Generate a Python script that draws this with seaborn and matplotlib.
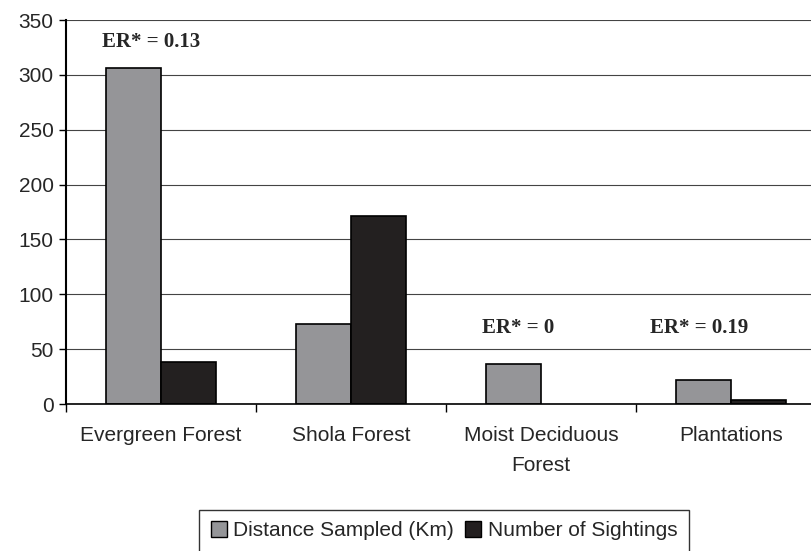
import matplotlib
matplotlib.use("Agg")
import matplotlib.pyplot as plt
import seaborn as sns
import pandas as pd

# data
habitats = ["Evergreen Forest", "Shola Forest", "Moist Deciduous\nForest", "Plantations"]
distance_km = [306, 73, 36.5, 22]
sightings = [38.5, 171, 0, 3.5]
series_names = ["Distance Sampled (Km)", "Number of Sightings"]
er_labels = ["ER* = 0.13", None, "ER* = 0", "ER* = 0.19"]
er_y = [330, None, 69, 69]
y_ticks = [0, 50, 100, 150, 200, 250, 300, 350]

df = pd.DataFrame({
    "habitat": habitats * 2,
    "value": distance_km + sightings,
    "series": [series_names[0]] * 4 + [series_names[1]] * 4,
})

sns.set_style("white")
plt.rcParams["font.family"] = ["Liberation Sans", "DejaVu Sans"]

fig = plt.figure(figsize=(8.11, 5.51), dpi=100)
ax = fig.add_axes([66 / 811, 1 - 404 / 551, 1 - 66 / 811, 384 / 551])

colors = {series_names[0]: "#949598", series_names[1]: "#231f20"}
sns.barplot(data=df, x="habitat", y="value", hue="series", palette=colors,
            order=habitats, hue_order=series_names, width=0.58,
            edgecolor="black", linewidth=1.2, ax=ax, legend=False)

# hide the empty zero-height bar outline
for p in ax.patches:
    if p.get_height() == 0:
        p.set_visible(False)

ax.set_xlim(-0.5, -0.5 + (811 - 66) / 190)
ax.set_ylim(0, 350)
ax.set_yticks(y_ticks)
ax.yaxis.grid(True, color="#444444", linewidth=0.8)
ax.set_axisbelow(True)
ax.set_xlabel("")
ax.set_ylabel("")

for side in ["top", "right"]:
    ax.spines[side].set_visible(False)
ax.spines["left"].set_color("black")
ax.spines["left"].set_linewidth(1.5)
ax.spines["bottom"].set_color("black")
ax.spines["bottom"].set_linewidth(1.2)

ax.tick_params(axis="y", direction="out", length=5, width=1, color="black",
               labelsize=15, left=True, pad=4)
ax.tick_params(axis="x", which="major", length=0, labelsize=15, pad=16)
for t in ax.get_xticklabels():
    t.set_linespacing(1.7)
ax.set_xticks([i - 0.5 for i in range(0, 4)], minor=True)
ax.tick_params(axis="x", which="minor", direction="out", length=6, width=1,
               color="black", bottom=True)

for i, (lab, yv) in enumerate(zip(er_labels, er_y)):
    if lab is None:
        continue
    dx = {0: -0.05, 2: -0.12, 3: -0.17}[i]
    ax.text(i + dx, yv, lab, ha="center", va="center", fontsize=15,
            fontweight="bold", family="Liberation Serif")

handles = [plt.Rectangle((0, 0), 1, 1, facecolor=colors[s], edgecolor="black",
                         linewidth=1) for s in series_names]
leg = fig.legend(handles, series_names, loc="upper center", ncol=2,
                 bbox_to_anchor=(444 / 811, 1 - 510 / 551), fontsize=15,
                 frameon=True, fancybox=False, handlelength=0.77,
                 handleheight=0.77, handletextpad=0.3, columnspacing=0.55,
                 borderpad=0.55, borderaxespad=0)
leg.get_frame().set_edgecolor("black")
leg.get_frame().set_linewidth(1)

fig.savefig("out.png", dpi=100)
